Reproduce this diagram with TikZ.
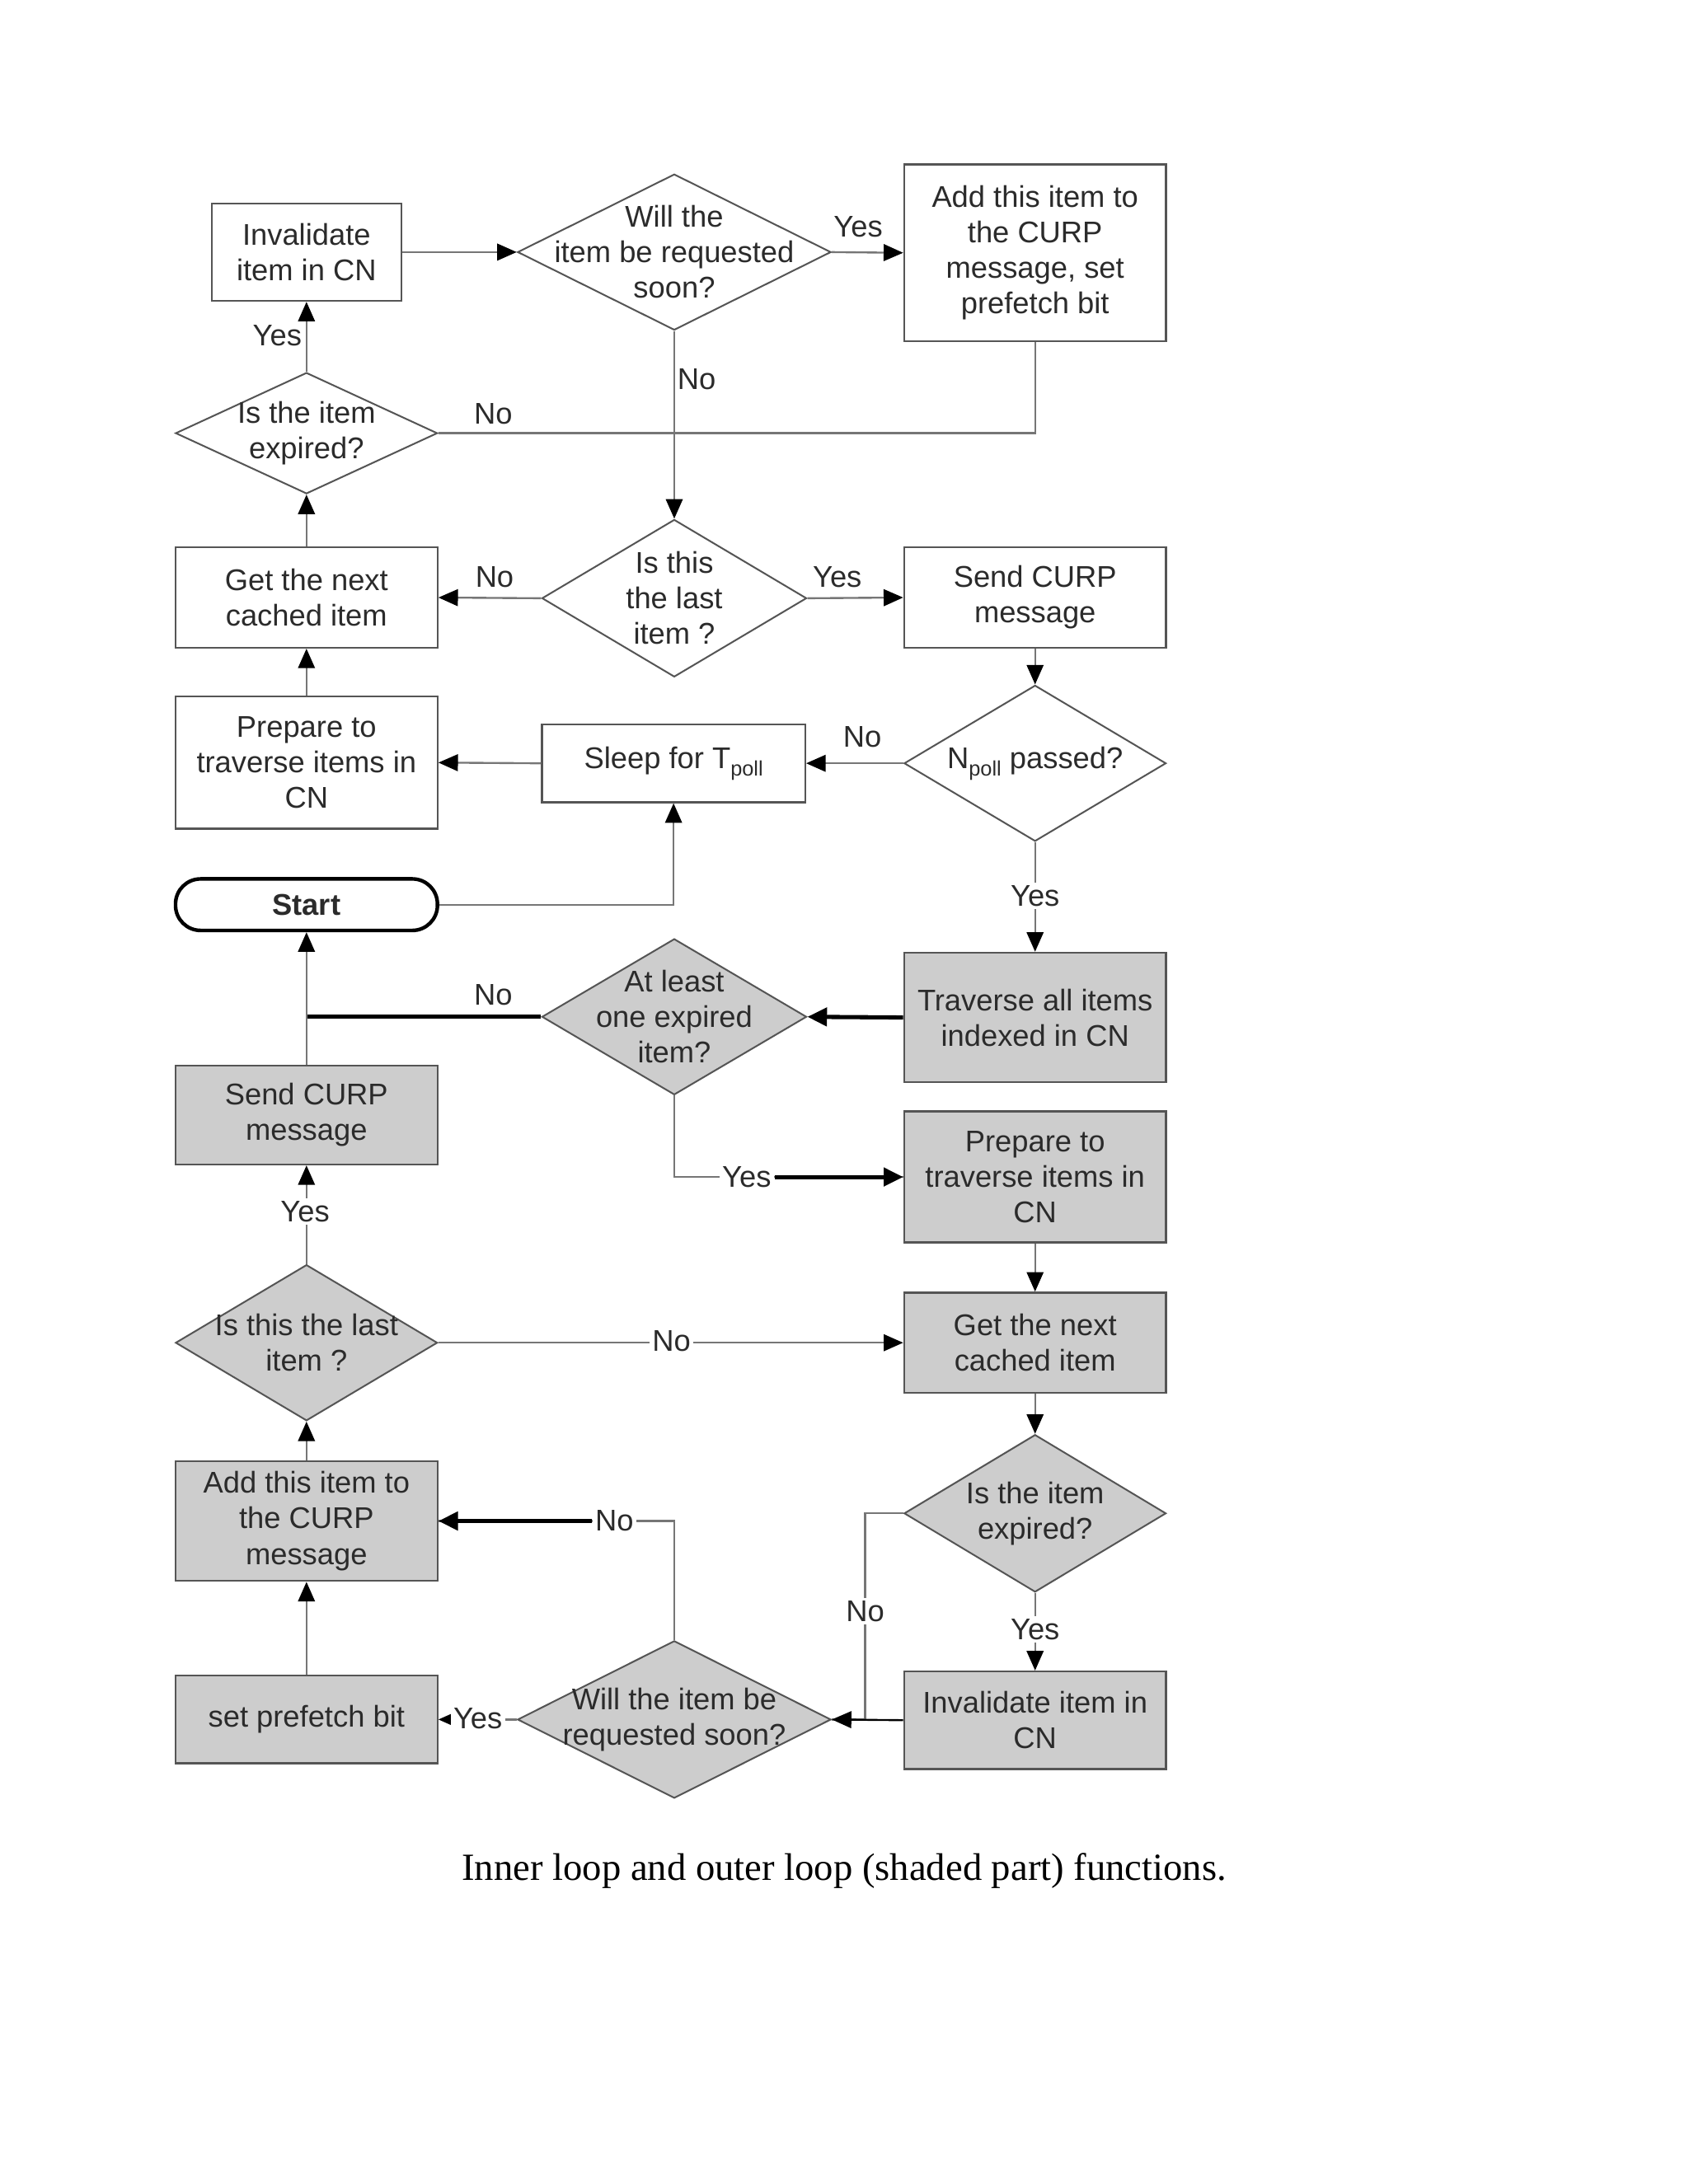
\documentclass[tikz,border=0pt]{standalone}
\usepackage{fontspec}
\setmainfont{Liberation Sans}
\newfontfamily\capfont{Liberation Serif}
\usetikzlibrary{shapes.geometric,arrows.meta}
\definecolor{linegray}{HTML}{767676}
\definecolor{boxborder}{HTML}{555555}
\definecolor{shadefill}{HTML}{CDCDCD}
\definecolor{txtcol}{HTML}{2B2B2B}
\begin{document}
\begin{tikzpicture}[x=0.5pt,y=-0.5pt,
  every node/.style={font=\fontsize{10.75}{12.75}\selectfont, text=txtcol},
  pbox/.style={rectangle, draw=boxborder, line width=0.7pt, fill=white, align=center, inner sep=1pt},
  sbox/.style={pbox, fill=shadefill},
  dia/.style={diamond, draw=boxborder, line width=0.6pt, fill=white, inner sep=0pt},
  sdia/.style={dia, fill=shadefill},
  dtext/.style={label={[align=center, text=txtcol]center:#1}},
  conn/.style={draw=linegray, line width=0.7pt},
  arr/.style={conn, -{Triangle[length=7pt,width=6pt,color=black]}},
  heavy/.style={draw=black, line width=1.5pt},
  heavyarr/.style={heavy, -{Triangle[length=7pt,width=6.5pt,color=black]}},
  lab/.style={inner sep=1pt},
  onl/.style={fill=white, inner sep=1pt}
]
\useasboundingbox (0,0) rectangle (1212,1568);

% ---------- inner loop (white) ----------
\node[pbox, minimum width=68pt, minimum height=35pt] (A1) at (220,181) {Invalidate\\item in CN};
\node[dia, minimum width=112.5pt, minimum height=56pt, dtext={Will the\\item be requested\\soon?}] (D1) at (484,181) {};
\node[pbox, minimum width=94pt, minimum height=63.5pt] (A2) at (743,181.5) {Add this item to\\the CURP\\message, set\\prefetch bit};
\node[dia, minimum width=94pt, minimum height=43.5pt, dtext={Is the item\\expired?}] (D2) at (220,311) {};
\node[pbox, minimum width=94pt, minimum height=36pt] (A3) at (220,429) {Get the next\\cached item};
\node[dia, minimum width=95pt, minimum height=56.5pt, dtext={Is this\\the last\\item ?}] (D3) at (484,429.5) {};
\node[pbox, minimum width=94pt, minimum height=36pt] (A4) at (743,429) {Send CURP\\message};
\node[pbox, minimum width=94pt, minimum height=47.5pt] (A5) at (220,547.5) {Prepare to\\traverse items in\\CN};
\node[pbox, minimum width=94.5pt, minimum height=28pt] (A6) at (483.5,548) {Sleep for T\raisebox{-0.45ex}{\fontsize{7.5}{8}\selectfont poll}};
\node[dia, minimum width=94pt, minimum height=56pt, dtext={N\raisebox{-0.45ex}{\fontsize{7.5}{8}\selectfont poll} passed?}] (D4) at (743,548) {};
\node[rectangle, rounded corners=9pt, draw=black, line width=1.3pt, fill=white, minimum width=94pt, minimum height=18.5pt, font=\fontsize{10.75}{12.75}\selectfont\bfseries] (S) at (220,649.5) {Start};

% ---------- outer loop (shaded) ----------
\node[sdia, minimum width=95pt, minimum height=56pt, dtext={At least\\one expired\\item?}] (D5) at (484,730) {};
\node[sbox, minimum width=94pt, minimum height=46.5pt] (B1) at (743,730.5) {Traverse all items\\indexed in CN};
\node[sbox, minimum width=94pt, minimum height=35.5pt] (B2) at (220,800.5) {Send CURP\\message};
\node[sbox, minimum width=94pt, minimum height=47pt] (B3) at (743,845) {Prepare to\\traverse items in\\CN};
\node[sdia, minimum width=94pt, minimum height=56pt, dtext={Is this the last\\item ?}] (D6) at (220,964) {};
\node[sbox, minimum width=94pt, minimum height=36pt] (B4) at (743,964) {Get the next\\cached item};
\node[sbox, minimum width=94pt, minimum height=43pt] (B5) at (220,1092) {Add this item to\\the CURP\\message};
\node[sdia, minimum width=94pt, minimum height=56.5pt, dtext={Is the item\\expired?}] (D7) at (743,1086.5) {};
\node[sbox, minimum width=94pt, minimum height=31.5pt] (B6) at (220,1234.5) {set prefetch bit};
\node[sdia, minimum width=112.5pt, minimum height=56.5pt, dtext={Will the item be\\requested soon?}] (D8) at (484,1234.5) {};
\node[sbox, minimum width=94pt, minimum height=35pt] (B7) at (743,1235) {Invalidate item in\\CN};

% ---------- connectors, inner loop ----------
\draw[arr] (A1.east) -- (D1.west);
\draw[arr] (D1.east) -- (A2.west);
\node[lab] (l1) at (616,163) {Yes};
\draw[conn] (D2.east) -| (A2.south);
\draw[arr] (D1.south) -- (D3.north);
\node[lab] (l2) at (500,272) {No};
\draw[arr] (D2.north) -- (A1.south);
\node[lab] (l3) at (199,241) {Yes};
\node[lab] (l4) at (354,297) {No};
\draw[arr] (D3.west) -- (A3.east);
\node[lab] (l5) at (355,414) {No};
\draw[arr] (D3.east) -- (A4.west);
\node[lab] (l6) at (601,414) {Yes};
\draw[arr] (A3.north) -- (D2.south);
\draw[arr] (A4.south) -- (D4.north);
\draw[arr] (D4.west) -- (A6.east);
\node[lab] (l7) at (619,529) {No};
\draw[arr] (A6.west) -- (A5.east);
\draw[arr] (A5.north) -- (A3.south);
\draw[arr] (S.east) -| (A6.south);
\draw[arr] (D4.south) -- (B1.north);
\node[onl] (l8) at (743,643) {Yes};

% ---------- connectors, outer loop ----------
\draw[heavyarr] (B1.west) -- (D5.east);
\coordinate (j1) at (D5.west -| B2.north);
\draw[heavy] (D5.west) -- (j1);
\node[lab] (l9) at (354,714) {No};
\draw[arr] (B2.north) -- (S.south);
\draw[conn] (D5.south) |- (B3.west);
\node[onl] (l10) at (536,845) {Yes};
\draw[heavyarr] (l10.east) -- (B3.west);
\draw[arr] (D6.north) -- (B2.south);
\node[onl] (l11) at (219,870) {Yes};
\draw[arr] (D6.east) -- (B4.west);
\node[onl] (l12) at (482,963) {No};
\draw[arr] (B3.south) -- (B4.north);
\draw[arr] (B5.north) -- (D6.south);
\draw[arr] (B4.south) -- (D7.north);
\draw[conn] (D8.north) |- (B5.east);
\node[onl] (l13) at (441,1092) {No};
\draw[heavyarr] (l13.west) -- (B5.east);
\coordinate (j2) at (621,1086.5);
\draw[conn] (D7.west) -- (j2) |- (D8.east);
\node[onl] (l14) at (621,1157) {No};
\draw[arr] (D7.south) -- (B7.north);
\node[onl] (l15) at (743,1170) {Yes};
\draw[arr, draw=black] (B7.west) -- (D8.east);
\draw[arr] (D8.west) -- (B6.east);
\node[onl] (l16) at (343,1234) {Yes};
\draw[arr] (B6.north) -- (B5.south);

% ---------- caption ----------
\node[font=\capfont\fontsize{13.8}{16}\selectfont, text=black] (cap) at (606,1343) {Inner loop and outer loop (shaded part) functions.};
\end{tikzpicture}
\end{document}
